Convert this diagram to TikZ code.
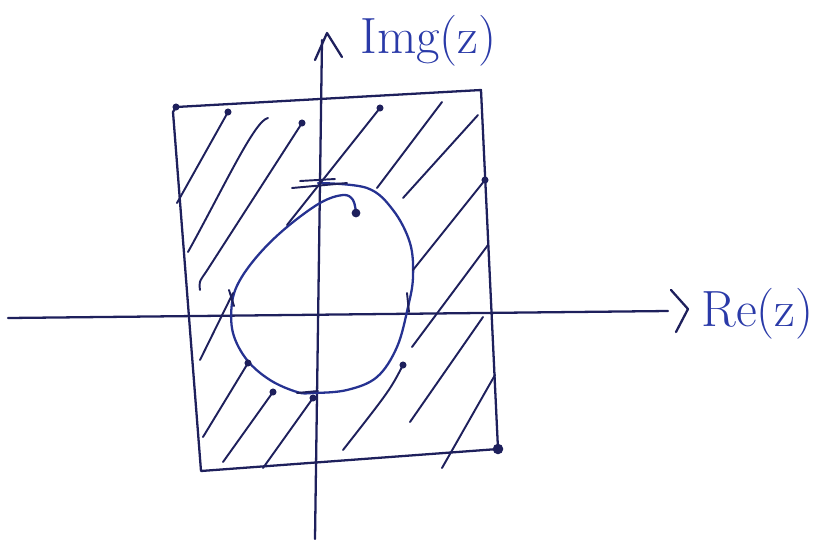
\documentclass[tikz,border=0pt]{standalone}
\usepackage{tikz}
\definecolor{inknavy}{RGB}{30,32,92}
\definecolor{inkblue}{RGB}{42,58,168}

\begin{document}
\begin{tikzpicture}[x=0.02cm, y=-0.02cm,
  pen/.style={draw=inknavy, line width=1.3pt, line cap=round, line join=round},
  hatch/.style={draw=inknavy, line width=1.1pt, line cap=round},
  blot/.style={circle, fill=inknavy, inner sep=0pt, minimum size=4pt},
  lbl/.style={text=inkblue, font=\fontsize{29}{32}\selectfont, inner sep=0pt}
]
\useasboundingbox (0,0) rectangle (826,539);

% axes
\coordinate (xleft) at (8,318);
\coordinate (xright) at (688,309);
\coordinate (ybottom) at (315,539);
\coordinate (ytop) at (327,33);
\draw[pen] (xleft) -- (668,311);
\draw[pen] (ybottom) -- (322,40);
\draw[pen] (671,290) -- (xright) -- (676,332);
\draw[pen] (315,60) -- (ytop) -- (342,57);
\node[lbl, anchor=west] (rez) at (701,314) {Re(z)};
\node[lbl, anchor=west] (imz) at (360,41) {Img(z)};

% square
\coordinate (sqtl) at (176,107);
\coordinate (sqtr) at (481,90);
\coordinate (sqbr) at (498,449);
\coordinate (sqbl) at (201,471);
\draw[pen] (sqtl) -- (sqtr) -- (sqbr) -- (sqbl) -- (173,112) -- cycle;
\node[blot, minimum size=6pt] (cornerbr) at (sqbr) {};
\node[blot] (cornertl) at (sqtl) {};

% region boundary
\draw[pen, draw=inkblue!70!inknavy] plot[smooth, tension=0.6] coordinates {(318,183) (367,188) (393,210) (410,243) (413,277) (408,307) (397,347) (377,377) (347,390) (313,393) (297,392) (270,380) (247,360) (233,333) (232,303) (240,280) (260,253) (287,227) (320,203) (343,195) (353,200) (356,213)};
\node[blot, minimum size=5pt] (hook) at (356,213) {};
% crossing ticks
\draw[hatch] (292,188) -- (347,183);
\draw[hatch] (300,181) -- (335,179);
\draw[hatch] (229,290) -- (234,306);
\draw[hatch] (407,293) -- (409,312);
\draw[hatch] (297,393) -- (318,391);

% hatching
\draw[hatch] (177,203) -- (228,112);
\draw[hatch] (188,252) .. controls (225,185) and (255,120) .. (268,118);
\draw[hatch] (200,290) .. controls (199,282) .. (206,272) -- (302,123);
\draw[hatch] (287,225) -- (380,108);
\draw[hatch] (377,188) -- (442,102);
\draw[hatch] (403,198) -- (478,115);
\draw[hatch] (413,270) -- (485,180);
\draw[hatch] (412,347) -- (488,245);
\draw[hatch] (200,360) -- (233,293);
\draw[hatch] (203,437) -- (248,363);
\draw[hatch] (223,462) -- (273,392);
\draw[hatch] (263,468) -- (313,398);
\draw[hatch] (343,450) .. controls (390,390) .. (403,365);
\draw[hatch] (410,422) -- (483,317);
\draw[hatch] (442,468) -- (495,375);
\node[blot] (d1) at (228,112) {};
\node[blot] (d2) at (302,123) {};
\node[blot] (d3) at (380,108) {};
\node[blot] (d4) at (485,180) {};
\node[blot] (d5) at (248,363) {};
\node[blot] (d6) at (273,392) {};
\node[blot] (d7) at (403,365) {};
\node[blot] (d8) at (313,398) {};
\end{tikzpicture}
\end{document}
